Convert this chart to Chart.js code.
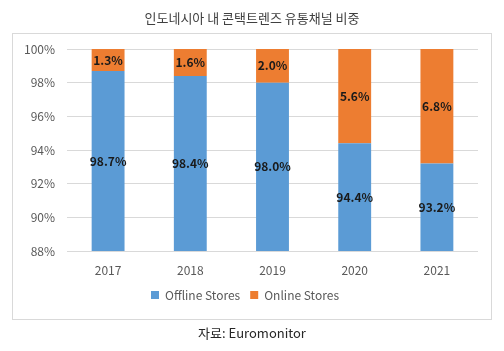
<!DOCTYPE html>
<html><head><meta charset="utf-8">
<script src="https://cdn.jsdelivr.net/npm/chart.js@4/dist/chart.umd.min.js"></script>
<style>html,body{margin:0;padding:0;background:#fff;}#wrap{width:504px;height:351px;}</style>
</head><body><div id="wrap"><canvas id="c" width="504" height="351"></canvas></div>
<script>
const categories = ['2017','2018','2019','2020','2021'];
const offlineValues = [98.7, 98.4, 98.0, 94.4, 93.2];
const onlineValues = [1.3, 1.6, 2.0, 5.6, 6.8];
const seriesNames = ['Offline Stores', 'Online Stores'];
const titleText = '인도네시아 내 콘택트렌즈 유통채널 비중';
const sourceText = '자료: Euromonitor';
const FONT = '"Noto Sans CJK KR", "Noto Sans", sans-serif';

const decor = {
  id: 'decor',
  beforeDraw(chart) {
    const ctx = chart.ctx;
    ctx.save();
    ctx.fillStyle = '#fff';
    ctx.fillRect(0, 0, chart.width, chart.height);
    ctx.strokeStyle = '#D9D9D9';
    ctx.lineWidth = 1;
    ctx.strokeRect(12.5, 33.5, 479, 286);
    ctx.fillStyle = '#404040';
    ctx.font = '13px ' + FONT;
    ctx.textAlign = 'center';
    ctx.textBaseline = 'middle';
    ctx.fillText(titleText, 252, 18);
    ctx.fillStyle = '#262626';
    ctx.font = '13px ' + FONT;
    ctx.fillText(sourceText, 252, 333);
    ctx.restore();
  },
  afterDatasetsDraw(chart) {
    const ctx = chart.ctx;
    const area = chart.chartArea;
    ctx.save();
    ctx.font = 'bold 12px ' + FONT;
    ctx.fillStyle = '#1a1a1a';
    ctx.textAlign = 'center';
    ctx.textBaseline = 'middle';
    chart.data.datasets.forEach((ds, di) => {
      const meta = chart.getDatasetMeta(di);
      meta.data.forEach((bar, i) => {
        const top = Math.max(bar.y, area.top);
        const bottom = Math.min(bar.base, area.bottom);
        const y = (top + bottom) / 2;
        ctx.fillText(ds.data[i].toFixed(1) + '%', bar.x, y);
      });
    });
    ctx.restore();
  }
};

new Chart(document.getElementById('c'), {
  type: 'bar',
  data: {
    labels: categories,
    datasets: [
      { label: seriesNames[0], data: offlineValues, backgroundColor: '#5B9BD5', barPercentage: 0.8, categoryPercentage: 0.5 },
      { label: seriesNames[1], data: onlineValues, backgroundColor: '#ED7D31', barPercentage: 0.8, categoryPercentage: 0.5 }
    ]
  },
  options: {
    responsive: false,
    animation: false,
    devicePixelRatio: 1,
    layout: { padding: { left: 12, right: 26, top: 49, bottom: 40 } },
    plugins: {
      legend: {
        position: 'bottom',
        labels: { boxWidth: 8, boxHeight: 8, padding: 10, color: '#595959', font: { size: 12, family: FONT } }
      },
      tooltip: { enabled: false }
    },
    scales: {
      x: {
        stacked: true,
        grid: { display: false, drawBorder: false },
        border: { display: false },
        ticks: { color: '#595959', font: { size: 12, family: FONT }, padding: 4 },
        afterFit(s) { s.height = 28; }
      },
      y: {
        stacked: true,
        min: 88, max: 100,
        grid: { color: '#D9D9D9', drawTicks: false },
        border: { display: false },
        ticks: { stepSize: 2, color: '#595959', font: { size: 12, family: FONT }, padding: 12, callback: v => v + '%' },
        afterFit(s) { s.width = 55; }
      }
    }
  },
  plugins: [decor]
});
</script></body></html>
